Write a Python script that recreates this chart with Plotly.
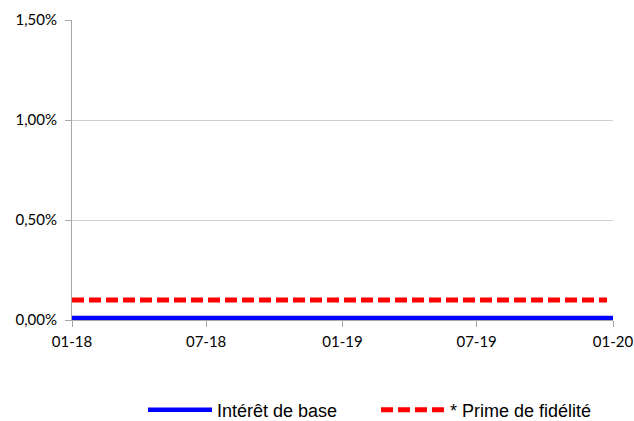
import plotly.graph_objects as go
import pandas as pd

dates = pd.date_range("2018-01-01", "2020-01-01", freq="MS").strftime("%Y-%m-%d").tolist()
interet_base = [0.0001] * len(dates)
prime_fidelite = [0.001] * len(dates)
series_names = ["Intérêt de base", "* Prime de fidélité"]
tick_vals = ["2018-01-01", "2018-07-01", "2019-01-01", "2019-07-01", "2020-01-01"]
tick_text = ["01-18", "07-18", "01-19", "07-19", "01-20"]

fig = go.Figure()
fig.add_trace(go.Scatter(x=dates, y=interet_base, mode="lines", name=series_names[0],
                         line=dict(color="#0000ff", width=4.5)))
fig.add_trace(go.Scatter(x=dates[:-1] + ["2019-12-24"], y=prime_fidelite, mode="lines", name=series_names[1],
                         line=dict(color="#ff0000", width=5, dash="12px,5px")))

fig.update_layout(
    width=634, height=421,
    margin=dict(l=72, r=21, t=20, b=101, autoexpand=False),
    paper_bgcolor="white", plot_bgcolor="white",
    separators=", ",
    font=dict(family="Lato, sans-serif", size=15, color="#000000"),
    showlegend=True,
    legend=dict(orientation="h", xref="container", yref="container",
                x=143/634, xanchor="left", y=11/421, yanchor="middle",
                font=dict(size=18, family="Liberation Sans, Arial, sans-serif"), itemwidth=64,
                entrywidth=154, entrywidthmode="pixels",
                bgcolor="rgba(0,0,0,0)"),
    xaxis=dict(type="date", range=["2018-01-01", "2020-01-01"], tickvals=tick_vals, ticktext=tick_text,
               showgrid=False, showline=True, linecolor="#a6a6a6", linewidth=1,
               ticks="outside", ticklen=6, tickcolor="#a6a6a6", zeroline=False,
               ticklabeloverflow="allow", ticklabelstandoff=2,
               tickfont=dict(size=15, family="Lato, sans-serif")),
    yaxis=dict(range=[0, 0.015], dtick=0.005, tick0=0, tickformat=".2%",
               showgrid=True, gridcolor="#d0d0d0", gridwidth=1,
               showline=True, linecolor="#a6a6a6", linewidth=1,
               ticks="outside", ticklen=6, tickcolor="#a6a6a6", zeroline=False,
               ticklabelstandoff=5,
               tickfont=dict(size=15, family="Lato, sans-serif")),
)

fig.write_html("out.html", config={"displayModeBar": False},
               post_script="document.body.style.margin='0';")
